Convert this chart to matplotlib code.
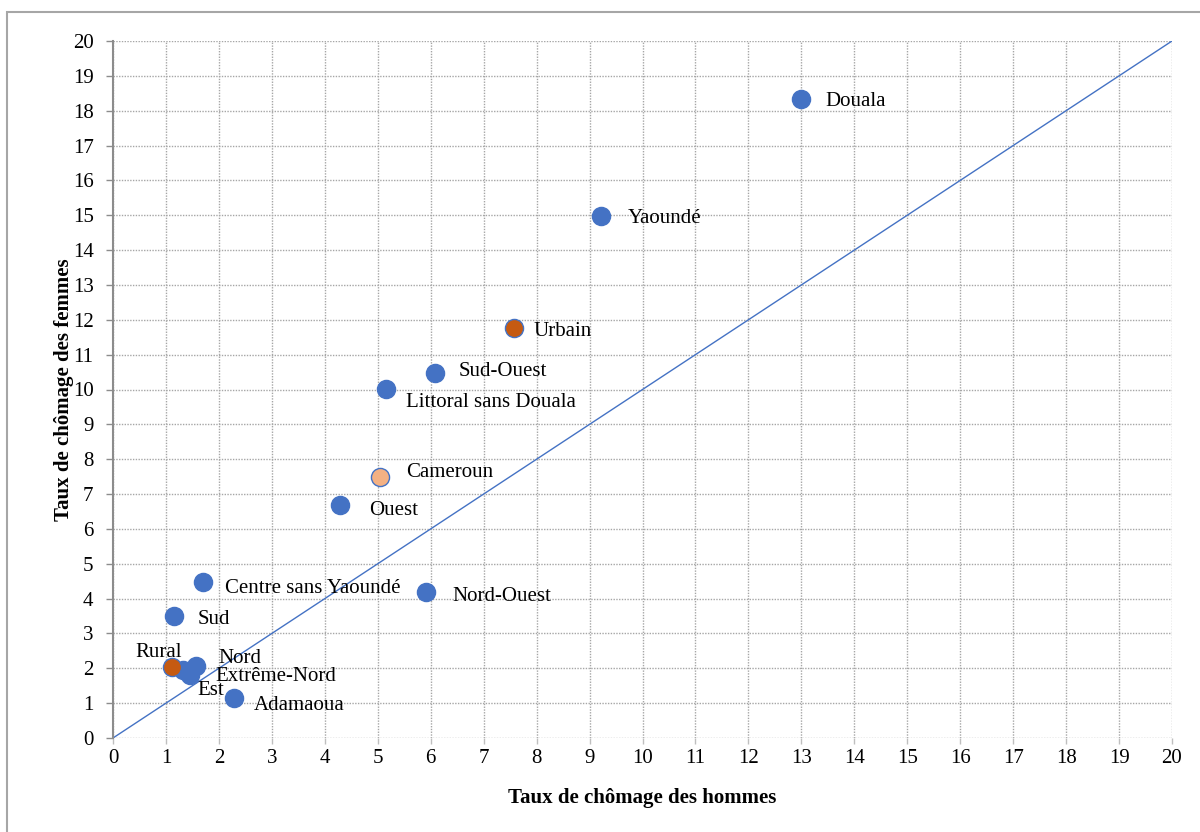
import matplotlib.pyplot as plt
from matplotlib.patches import Rectangle

plt.rcParams['font.family'] = ['Liberation Serif', 'DejaVu Serif']
fs = 15

# data (men, women unemployment rates)
regions = ['Douala', 'Yaoundé', 'Urbain', 'Sud-Ouest', 'Littoral sans Douala',
           'Cameroun', 'Ouest', 'Centre sans Yaoundé', 'Nord-Ouest', 'Sud',
           'Extrême-Nord', 'Est', 'Nord', 'Adamaoua', 'Rural']
hommes = [12.99, 9.22, 7.57, 6.08, 5.16, 5.04, 4.29, 1.70, 5.91, 1.15, 1.32, 1.45, 1.57, 2.29, 1.11]
femmes = [18.34, 14.98, 11.76, 10.47, 10.01, 7.49, 6.69, 4.48, 4.19, 3.50, 1.95, 1.81, 2.07, 1.15, 2.04]

colour = {'Urbain': '#C55A11', 'Rural': '#C55A11', 'Cameroun': '#F4B183'}

# label offsets in pixels (dx, dy, ha)
offsets = {'Douala': (25, -3, 'left'), 'Yaoundé': (27, -3, 'left'), 'Urbain': (20, -3, 'left'),
           'Sud-Ouest': (24, 2, 'left'), 'Littoral sans Douala': (20, -13, 'left'),
           'Cameroun': (26, 4, 'left'), 'Ouest': (29, -6, 'left'),
           'Centre sans Yaoundé': (22, -7, 'left'), 'Nord-Ouest': (26, -5, 'left'),
           'Sud': (24, -3, 'left'), 'Rural': (-13, 14, 'center'), 'Nord': (22, 7, 'left'),
           'Extrême-Nord': (32, -6, 'left'), 'Est': (8, -16, 'left'),
           'Adamaoua': (20, -8, 'left')}

fig = plt.figure(figsize=(12, 8.32), dpi=100)
fig.patches.append(Rectangle((7/1200, -0.1), 1.2, 1-12/832+0.1, transform=fig.transFigure,
                             fill=False, edgecolor='#A6A6A6', linewidth=1.5))
ax = fig.add_axes([113/1200, 1-738/832, (1172-113)/1200, (738-41)/832])

ax.plot([0, 20], [0, 20], color='#4472C4', linewidth=1, zorder=2)

for name, x, y in zip(regions, hommes, femmes):
    c = colour.get(name, '#4472C4')
    ax.scatter([x], [y], s=170, color=c, edgecolor='#4472C4', linewidth=1, zorder=3)
    dx, dy, ha = offsets[name]
    ax.annotate(name, (x, y), xytext=(dx, dy), textcoords='offset pixels',
                ha=ha, va='center', size=fs, zorder=4)

ax.set_xlim(0, 20)
ax.set_ylim(0, 20)
ax.set_xticks(range(0, 21))
ax.set_yticks(range(0, 21))
ax.grid(True, color='#A6A6A6', linestyle=(0, (1, 1)), linewidth=1, zorder=0)
ax.set_axisbelow(True)
for s in ['top', 'right', 'bottom']:
    ax.spines[s].set_visible(False)
ax.spines['left'].set_color('#8C8C8C')
ax.spines['left'].set_linewidth(1.5)
ax.tick_params(axis='y', direction='out', length=5, color='#8C8C8C', width=1, pad=9, labelsize=fs)
ax.tick_params(axis='x', direction='out', length=4, color='#BFBFBF', width=1, pad=4, labelsize=fs)

ax.set_xlabel('Taux de chômage des hommes', size=fs, fontweight='bold', labelpad=14)
ax.set_ylabel('Taux de chômage des femmes', size=fs, fontweight='bold', labelpad=-1)

fig.savefig('out.png', dpi=100)
